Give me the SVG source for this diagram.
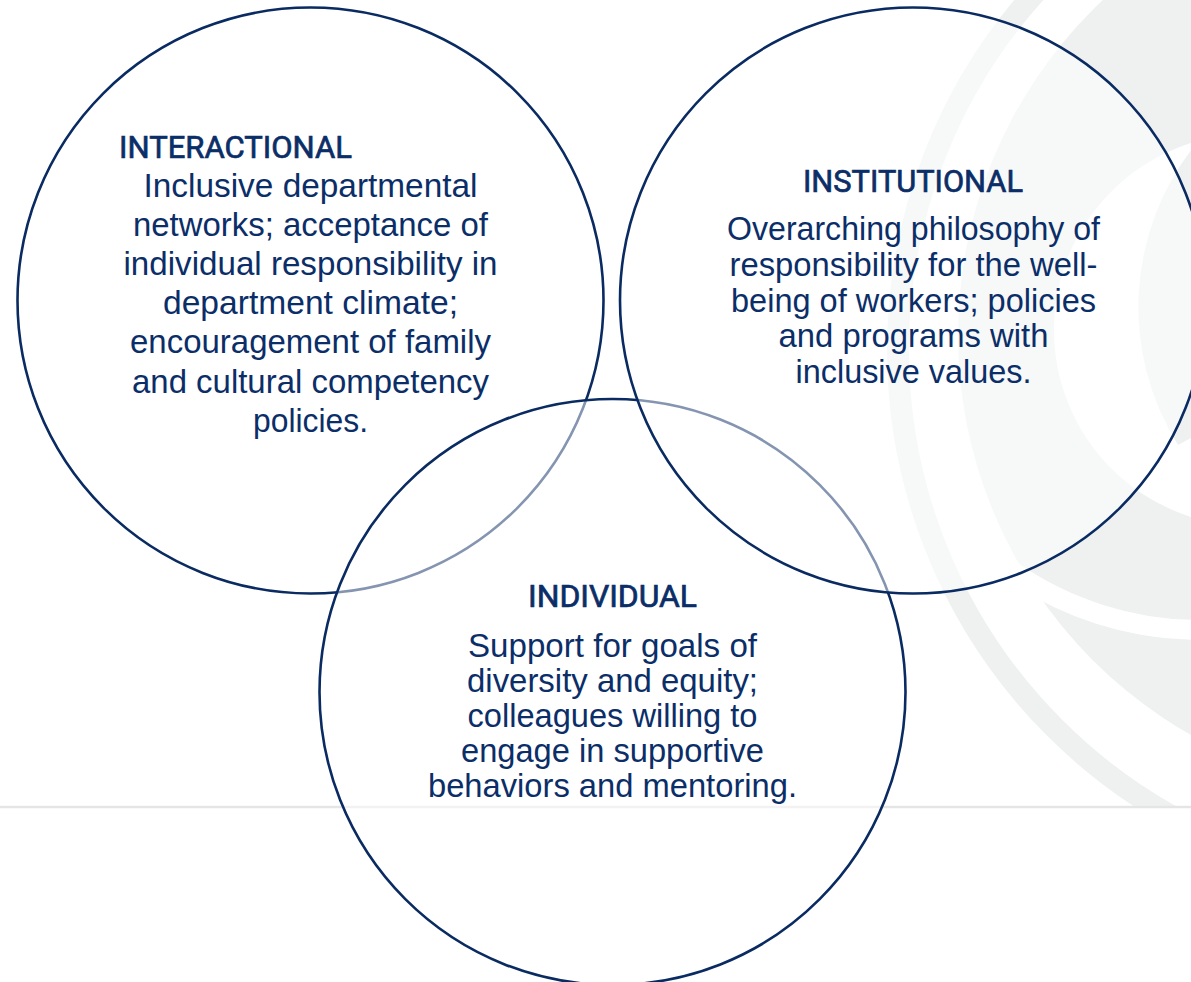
<svg xmlns="http://www.w3.org/2000/svg" width="1191" height="982" viewBox="0 0 1191 982">
<style>
.ring{fill:#ffffff;fill-opacity:0.5;stroke:#0a2b62;stroke-width:2.6}
.hd{font-family:Roboto,"Liberation Sans",sans-serif;font-weight:400;font-size:31px;fill:#0b2e68;stroke:#0b2e68;stroke-width:0.7}
.bd{font-family:"Liberation Sans",Arial,sans-serif;font-size:33px;fill:#0b2e68;text-anchor:middle}
.bg{fill:#eff1f1}
</style>
<defs>
<clipPath id="bgclip"><rect x="0" y="0" width="1191" height="806"/></clipPath>
</defs>
<rect x="0" y="0" width="1191" height="982" fill="#ffffff"/>
<g id="background" clip-path="url(#bgclip)">
  <circle class="bg" cx="1418" cy="335" r="460"/>
  <circle cx="1250" cy="330" r="196" fill="#ffffff"/>
  <path class="bg" d="M 1195 145 A 260 260 0 0 0 1178 445 L 1195 436 Z"/>
  <path d="M 1000 562.5 A 330 330 0 0 0 1210 629.8" fill="none" stroke="#ffffff" stroke-width="20"/>
  <circle cx="1432" cy="350" r="534" fill="none" stroke="#eff1f1" stroke-width="22"/>
</g>
<line id="rule" x1="0" y1="807" x2="1191" y2="807" stroke="#e5e5e5" stroke-width="2.5"/>
<g id="connectors"></g>
<g id="interactional-circle"><circle class="ring" cx="310.5" cy="300.5" r="293"/></g>
<g id="individual-circle"><circle class="ring" cx="612.5" cy="692" r="293"/></g>
<g id="institutional-circle"><circle class="ring" cx="913" cy="300.5" r="293"/></g>
<g id="interactional">
  <text class="hd" x="119" y="158" textLength="233" lengthAdjust="spacingAndGlyphs">INTERACTIONAL</text>
  <text class="bd" x="310.5" y="196.5" textLength="334" lengthAdjust="spacingAndGlyphs">Inclusive departmental</text>
  <text class="bd" x="310.5" y="235.7" textLength="355" lengthAdjust="spacingAndGlyphs">networks; acceptance of</text>
  <text class="bd" x="310.5" y="274.9" textLength="374" lengthAdjust="spacingAndGlyphs">individual responsibility in</text>
  <text class="bd" x="310.5" y="314.1" textLength="295" lengthAdjust="spacingAndGlyphs">department climate;</text>
  <text class="bd" x="310.5" y="353.3" textLength="361" lengthAdjust="spacingAndGlyphs">encouragement of family</text>
  <text class="bd" x="310.5" y="392.5" textLength="357" lengthAdjust="spacingAndGlyphs">and cultural competency</text>
  <text class="bd" x="310.5" y="431.7" textLength="115" lengthAdjust="spacingAndGlyphs">policies.</text>
</g>
<g id="institutional">
  <text class="hd" x="913" y="191.5" text-anchor="middle" textLength="220" lengthAdjust="spacingAndGlyphs">INSTITUTIONAL</text>
  <text class="bd" x="913.5" y="240" textLength="373" lengthAdjust="spacingAndGlyphs">Overarching philosophy of</text>
  <text class="bd" x="913.5" y="275.8" textLength="368" lengthAdjust="spacingAndGlyphs">responsibility for the well-</text>
  <text class="bd" x="913.5" y="311.6" textLength="365" lengthAdjust="spacingAndGlyphs">being of workers; policies</text>
  <text class="bd" x="913.5" y="347.4" textLength="270" lengthAdjust="spacingAndGlyphs">and programs with</text>
  <text class="bd" x="913.5" y="383.2" textLength="236" lengthAdjust="spacingAndGlyphs">inclusive values.</text>
</g>
<g id="individual">
  <text class="hd" x="612.5" y="606.5" text-anchor="middle" textLength="169" lengthAdjust="spacingAndGlyphs">INDIVIDUAL</text>
  <text class="bd" x="612.5" y="656.5" textLength="289" lengthAdjust="spacingAndGlyphs">Support for goals of</text>
  <text class="bd" x="612.5" y="691.7" textLength="291" lengthAdjust="spacingAndGlyphs">diversity and equity;</text>
  <text class="bd" x="612.5" y="726.9" textLength="290" lengthAdjust="spacingAndGlyphs">colleagues willing to</text>
  <text class="bd" x="612.5" y="762.1" textLength="303" lengthAdjust="spacingAndGlyphs">engage in supportive</text>
  <text class="bd" x="612.5" y="797.3" textLength="369" lengthAdjust="spacingAndGlyphs">behaviors and mentoring.</text>
</g>
</svg>
